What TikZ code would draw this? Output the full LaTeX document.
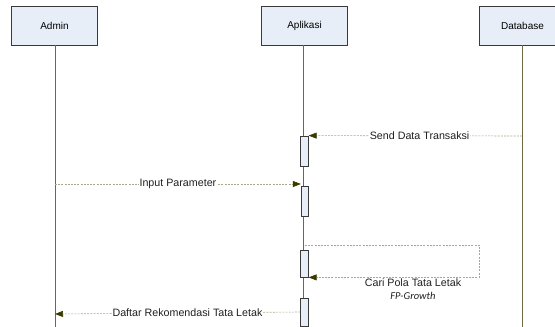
\documentclass[tikz,border=0pt]{standalone}
\usepackage{fontspec}
\setmainfont{Liberation Sans}
\newfontfamily\notefont{Carlito}
\usetikzlibrary{arrows.meta, positioning, calc}
\definecolor{boxfill}{HTML}{E8EEF8}
\definecolor{boxline}{HTML}{3A3A3A}
\definecolor{lifecol}{HTML}{6E6A40}
\definecolor{msgcol}{HTML}{A8A88E}
\definecolor{tipcol}{HTML}{3A3A00}
\definecolor{labtext}{HTML}{202020}

\tikzset{
  actor/.style={draw=boxline, fill=boxfill, line width=0.8pt,
    minimum width=86pt, minimum height=39pt, font=\fontsize{10}{12}\selectfont},
  actbar/.style={draw=boxline, fill=boxfill, line width=0.8pt,
    minimum width=7.5pt, inner sep=0pt},
  lifeline/.style={lifecol, line width=1pt},
  msg/.style={msgcol, line width=0.6pt, dash pattern=on 2pt off 1.2pt,
    -{Triangle[length=8pt, width=6pt, color=tipcol]}},
  msglabel/.style={fill=white, inner sep=0.5pt, text=labtext,
    font=\fontsize{10.7}{12}\selectfont}
}

\begin{document}
\begin{tikzpicture}[x=1pt, y=-1pt]

\useasboundingbox (0,0) rectangle (555,327);
\clip (0,0) rectangle (555,327);

% Participants
\node[actor] (admin) at (54.5,25.5) {Admin};
\node[actor] (aplikasi) at (304.5,25.5) {Aplikasi};
\node[actor] (database) at (522.5,25.5) {Database};

% Lifelines
\coordinate (adminend) at (55,330);
\coordinate (aplend) at (303,330);
\coordinate (dbend) at (522,330);
\draw[lifeline] (admin.south -| adminend) -- (adminend);
\draw[lifeline] (aplikasi.south -| aplend) -- (aplend);
\draw[lifeline] (database.south -| dbend) -- (dbend);

% Activation bars on Aplikasi
\node[actbar, minimum height=30pt] (act1) at (304.5,151) {};
\node[actbar, minimum height=30pt] (act2) at (305,201) {};
\node[actbar, minimum height=27pt] (act3) at (304.5,263.5) {};
\node[actbar, minimum height=28pt] (act4) at (304.5,312) {};

% Send Data Transaksi
\coordinate (dbsend) at (522,136);
\draw[msg] (dbsend) -- (act1.north east)
  node[msglabel, pos=0.48] {Send Data Transaksi};

% Input Parameter
\coordinate (adminin) at (55,184);
\draw[msg] (adminin) -- (act2.north west |- adminin)
  node[msglabel, pos=0.5] {Input Parameter};

% Self call: Cari Pola Tata Letak
\coordinate (selfstart) at (305,245);
\coordinate (selfturn) at (479,245);
\draw[msg] (selfstart) -- (selfturn) -- (selfturn |- act3.south east)
  -- (act3.south east);
\node[text=labtext, font=\fontsize{10.7}{12}\selectfont] (cari) at (413,283) {Cari Pola Tata Letak};
\node[text=labtext, font=\notefont\itshape\fontsize{10.5}{12}\selectfont, below=-2pt of cari] (fpg) {FP-Growth};

% Daftar Rekomendasi Tata Letak
\coordinate (adminout) at (55,314);
\draw[msg] (act4.west) -- (adminout)
  node[msglabel, pos=0.46] {Daftar Rekomendasi Tata Letak};

\end{tikzpicture}
\end{document}
